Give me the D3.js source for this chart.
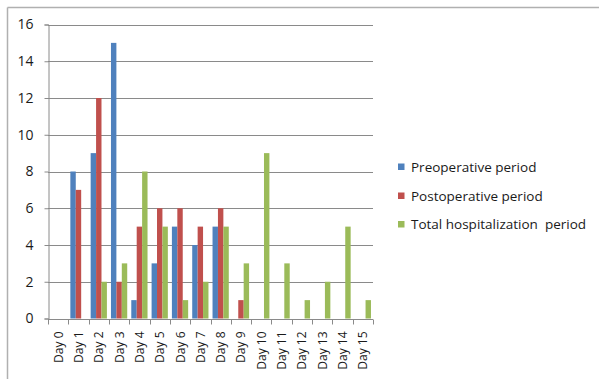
<!DOCTYPE html>
<html><head><meta charset="utf-8">
<script src="https://cdn.jsdelivr.net/npm/d3@7"></script>
<style>body{margin:0;background:#fff;} svg{display:block;}</style>
</head><body>
<script>
const categories = ["Day 0","Day 1","Day 2","Day 3","Day 4","Day 5","Day 6","Day 7","Day 8","Day 9","Day 10","Day 11","Day 12","Day 13","Day 14","Day 15"];
const seriesNames = ["Preoperative period","Postoperative period","Total hospitalization  period"];
const preoperative = [0,8,9,15,1,3,5,4,5,0,0,0,0,0,0,0];
const postoperative = [0,7,12,2,5,6,6,5,6,1,0,0,0,0,0,0];
const totalHosp = [0,0,2,3,8,5,1,2,5,3,9,3,1,2,5,1];
const yTicks = [0,2,4,6,8,10,12,14,16];
const colors = ["#4F81BD","#C0504D","#9BBB59"];
const seriesValues = [preoperative, postoperative, totalHosp];

(function(){
const W = 599, H = 379;
const svg = d3.select("body").append("svg").attr("width", W).attr("height", H);
const font = "'Open Sans', Lato, sans-serif";

svg.append("line").attr("x1",7.5).attr("x2",W).attr("y1",7.5).attr("y2",7.5).attr("stroke","#b0b0b0").attr("stroke-width",1.5);
svg.append("line").attr("x1",7.5).attr("x2",7.5).attr("y1",7.5).attr("y2",H).attr("stroke","#b0b0b0").attr("stroke-width",1.5);

const pL = 48, pR = 373, pT = 24.5, pB = 318.5;
const x = d3.scaleBand().domain(categories).range([pL, pR]).padding(0);
const y = d3.scaleLinear().domain([0,16]).range([pB, pT]);

svg.append("g").selectAll("line").data(yTicks.filter(d=>d>0)).join("line")
  .attr("x1", pL).attr("x2", pR)
  .attr("y1", d=>Math.round(y(d))+0.5).attr("y2", d=>Math.round(y(d))+0.5)
  .attr("stroke","#8a8a8a").attr("stroke-width",1);

const yAxis = svg.append("g").attr("transform",`translate(${pL+0.5},0)`)
  .call(d3.axisLeft(y).tickValues(yTicks).tickSize(4).tickPadding(11).tickFormat(d3.format("d")));
yAxis.select(".domain").attr("stroke","#8a8a8a");
yAxis.selectAll(".tick line").attr("stroke","#8a8a8a");
yAxis.selectAll("text").attr("font-family",font).attr("font-size",14).attr("fill","#1a1a1a");

const barW = x.bandwidth()/3.75;
const groupOff = (x.bandwidth() - 3*barW)/2;
seriesValues.forEach((vals, si) => {
  svg.append("g").selectAll("rect").data(vals.map((v,i)=>({c:categories[i], v}))).join("rect")
    .attr("x", d=>x(d.c)+groupOff+si*barW)
    .attr("y", d=>y(d.v))
    .attr("width", barW)
    .attr("height", d=>y(0)-y(d.v))
    .attr("fill", colors[si]);
});

const xg = svg.append("g").attr("transform",`translate(0,${Math.round(y(0))+0.5})`);
xg.append("line").attr("x1",pL).attr("x2",pR).attr("stroke","#8a8a8a");
const bounds = categories.map(c=>x(c)).concat([pR]);
xg.selectAll("line.tk").data(bounds).join("line").attr("class","tk")
  .attr("x1",d=>Math.round(d)+0.5).attr("x2",d=>Math.round(d)+0.5).attr("y1",0).attr("y2",5)
  .attr("stroke","#8a8a8a");
xg.selectAll("text").data(categories).join("text")
  .attr("transform", d=>`translate(${x(d)+x.bandwidth()/2+4.5},12) rotate(-90)`)
  .attr("text-anchor","end")
  .attr("font-family",font).attr("font-size",12).attr("fill","#1a1a1a")
  .text(d=>d);

const lg = svg.append("g").attr("transform","translate(398,0)");
const ly = [167, 196, 224.5];
seriesNames.forEach((n,i)=>{
  lg.append("rect").attr("x",0).attr("y",ly[i]-3.5).attr("width",6.5).attr("height",6.5).attr("fill",colors[i]);
  lg.append("text").attr("x",13).attr("y",ly[i]+4.5).attr("font-family",font).attr("font-size",13.5).attr("fill","#1a1a1a").style("white-space","pre").text(n);
});
})();
</script>
</body></html>
